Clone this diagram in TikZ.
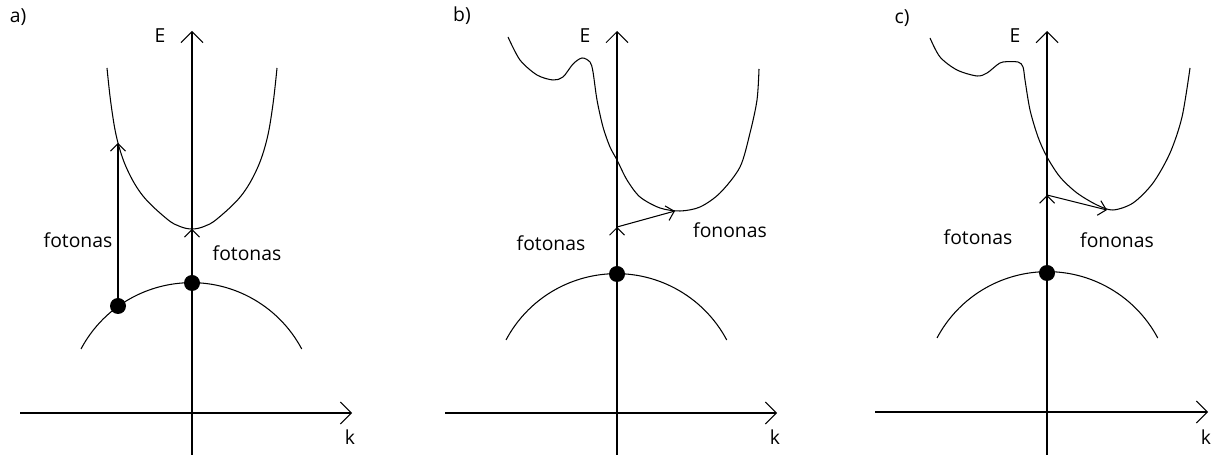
\documentclass[tikz,border=0pt]{standalone}
\usepackage{fontspec}
\setmainfont{Open Sans}
\usetikzlibrary{arrows.meta}

\tikzset{
  band/.style={line width=0.6pt},
  axis/.style={line width=0.6pt,-{Straight Barb[length=0.22cm,width=0.44cm,line width=0.6pt]}},
  jump/.style={line width=0.6pt,-{Straight Barb[length=0.15cm,width=0.3cm,line width=0.6pt]}},
  lbl/.style={font=\fontsize{11}{13}\selectfont,inner sep=0pt},
}

\begin{document}
\begin{tikzpicture}[x=0.02cm,y=0.02cm]
  \useasboundingbox (0,0) rectangle (1219,459);
  % axes of the three panels
  \foreach \p/\x/\l/\r/\y/\t in {a/192/20/352/46/a), b/617/445/777/46/b), c/1047/875/1208/47/c)} {
    \coordinate (\p-bot) at (\x,4);
    \coordinate (\p-top) at (\x,428);
    \coordinate (\p-left) at (\l,\y);
    \coordinate (\p-right) at (\r,\y);
    \draw[axis] (\p-bot) -- (\p-top);
    \draw[axis] (\p-left) -- (\p-right);
    \node[lbl] (\p-E) at (\x-32,423) {E};
    \node[lbl] (\p-k) at (\r-2,22) {k};
  }
  \node[lbl] (a-name) at (18,442) {a)};
  \node[lbl] (b-name) at (462,443) {b)};
  \node[lbl] (c-name) at (902,441) {c)};
  % valence bands
  \foreach \s/\y in {81/110, 506/119, 937/121}
    \draw[band] (\s,\y) arc[start angle=152, end angle=28, radius=125];

  % a) direct gap
  \draw[band] plot[smooth,tension=0.6] coordinates {(107,391) (111,355) (117,320) (127,290) (143,263) (167,240) (180,232.5)
    (192,230) (204,232.5) (217,240) (241,263) (257,290) (267,320) (273,355) (277,391)};
  \coordinate (a-v1) at (118,153);
  \coordinate (a-c1) at (118,316);
  \coordinate (a-v2) at (192,176);
  \coordinate (a-c2) at (192,230);
  \draw[jump] (a-v1) -- (a-c1);
  \draw[jump] (a-v2) -- (a-c2);
  \fill (a-v1) circle (8);
  \fill (a-v2) circle (8);
  \node[lbl] (a-foto1) at (78,219) {fotonas};
  \node[lbl] (a-foto2) at (247,206) {fotonas};

  % b) indirect gap
  \draw[band] plot[smooth,tension=0.5] coordinates {(508,422) (520,399) (537,384) (553,379) (563,382) (573,395) (582,401)
    (590,397) (593,387) (597,359) (603,332) (610,312) (617,299) (627,279) (640,262) (660,251) (680,248)
    (700,252) (720,266) (740,292) (750,326) (757,359) (759,390)};
  \coordinate (b-v) at (617,185);
  \coordinate (b-m) at (617,232);
  \coordinate (b-c) at (675,248);
  \draw[jump] (b-v) -- (b-m);
  \draw[jump] (b-m) -- (b-c);
  \fill (b-v) circle (8);
  \node[lbl] (b-foto) at (551,216) {fotonas};
  \node[lbl] (b-fono) at (730,229) {fononas};

  % c) indirect gap, smaller jump
  \draw[band] plot[smooth,tension=0.5] coordinates {(930,421) (940,402) (957,389) (977,383) (987,386) (997,394) (1003,397)
    (1018,397) (1023,392) (1025,379) (1030,349) (1038,322) (1047,302) (1060,282) (1077,266) (1097,254) (1113,249)
    (1133,256) (1153,276) (1170,306) (1182,342) (1190,391)};
  \coordinate (c-v) at (1047,186);
  \coordinate (c-m) at (1047,264);
  \coordinate (c-c) at (1107,249);
  \draw[jump] (c-v) -- (c-m);
  \draw[jump] (c-m) -- (c-c);
  \fill (c-v) circle (8);
  \node[lbl] (c-foto) at (978,222) {fotonas};
  \node[lbl] (c-fono) at (1117,219) {fononas};
\end{tikzpicture}
\end{document}
